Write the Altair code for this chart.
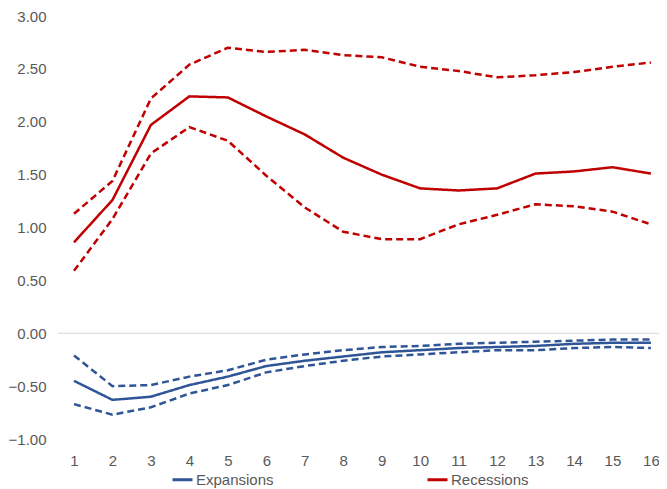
import altair as alt
import pandas as pd

horizon = list(range(1, 17))

rec_mean = [0.86, 1.26, 1.97, 2.24, 2.23, 2.05, 1.88, 1.66, 1.50, 1.37, 1.35, 1.37, 1.51, 1.53, 1.57, 1.51]
rec_upper = [1.13, 1.44, 2.22, 2.54, 2.70, 2.66, 2.68, 2.63, 2.61, 2.52, 2.48, 2.42, 2.44, 2.47, 2.52, 2.56]
rec_lower = [0.59, 1.08, 1.70, 1.95, 1.82, 1.49, 1.19, 0.96, 0.89, 0.89, 1.03, 1.12, 1.22, 1.20, 1.15, 1.03]

exp_mean = [-0.45, -0.63, -0.60, -0.49, -0.41, -0.31, -0.26, -0.22, -0.18, -0.16, -0.14, -0.13, -0.12, -0.10, -0.09, -0.09]
exp_upper = [-0.21, -0.50, -0.49, -0.41, -0.35, -0.25, -0.20, -0.16, -0.13, -0.12, -0.10, -0.09, -0.08, -0.07, -0.06, -0.06]
exp_lower = [-0.67, -0.77, -0.70, -0.57, -0.49, -0.37, -0.31, -0.26, -0.22, -0.20, -0.18, -0.16, -0.16, -0.14, -0.13, -0.14]

y_ticks = [-1.0, -0.5, 0.0, 0.5, 1.0, 1.5, 2.0, 2.5, 3.0]
groups = ["Expansions", "Recessions"]
colors = ["#2F5597", "#C00000"]

rows = []
for grp, series in [("Expansions", {"mean": exp_mean, "upper": exp_upper, "lower": exp_lower}),
                    ("Recessions", {"mean": rec_mean, "upper": rec_upper, "lower": rec_lower})]:
    for band, vals in series.items():
        for h, v in zip(horizon, vals):
            rows.append({"h": h, "value": v, "group": grp, "band": band,
                         "kind": "mean" if band == "mean" else "ci"})
df = pd.DataFrame(rows)

font = "Liberation Sans"
grey = "#595959"

x_scale = alt.Scale(domain=[0.584, 16.21], nice=False, zero=False)
y_scale = alt.Scale(domain=[-1, 3], nice=False)
y_axis = alt.Axis(values=y_ticks, format=".2f", title=None, grid=False, ticks=False,
                  domain=False, labelFont=font, labelFontSize=15, labelColor=grey,
                  labelPadding=12)

zero = alt.Chart(pd.DataFrame({"z": [0.0]})).mark_rule(color="#D9D9D9", strokeWidth=1).encode(
    y=alt.Y("z:Q", scale=y_scale, axis=y_axis)
)

lines = alt.Chart(df).mark_line(strokeWidth=2.5).encode(
    x=alt.X("h:Q", scale=x_scale,
            axis=alt.Axis(values=horizon, format="d", title=None, grid=False, ticks=False,
                          domain=False, labelFont=font, labelFontSize=15, labelColor=grey,
                          labelPadding=14)),
    y=alt.Y("value:Q", scale=y_scale, axis=y_axis),
    color=alt.Color("group:N", scale=alt.Scale(domain=groups, range=colors),
                    legend=alt.Legend(title=None, orient="none", direction="horizontal",
                                      legendX=113, legendY=452, symbolType="stroke",
                                      symbolStrokeWidth=3, symbolSize=400,
                                      labelFont=font, labelFontSize=15, labelColor=grey,
                                      labelOffset=2, columnPadding=147)),
    strokeDash=alt.StrokeDash("kind:N", scale=alt.Scale(domain=["mean", "ci"], range=[[1, 0], [7, 4]]),
                              legend=None),
    detail="band:N",
)

chart = alt.layer(zero, lines).properties(
    width=601, height=423,
    background="white",
    autosize=alt.AutoSizeParams(type="none"),
    padding={"left": 50, "top": 8, "right": 0, "bottom": 50},
).configure_view(stroke=None).configure_axis(domain=False, grid=False)

chart.save("out.html", embed_options={"renderer": "svg", "actions": False})
